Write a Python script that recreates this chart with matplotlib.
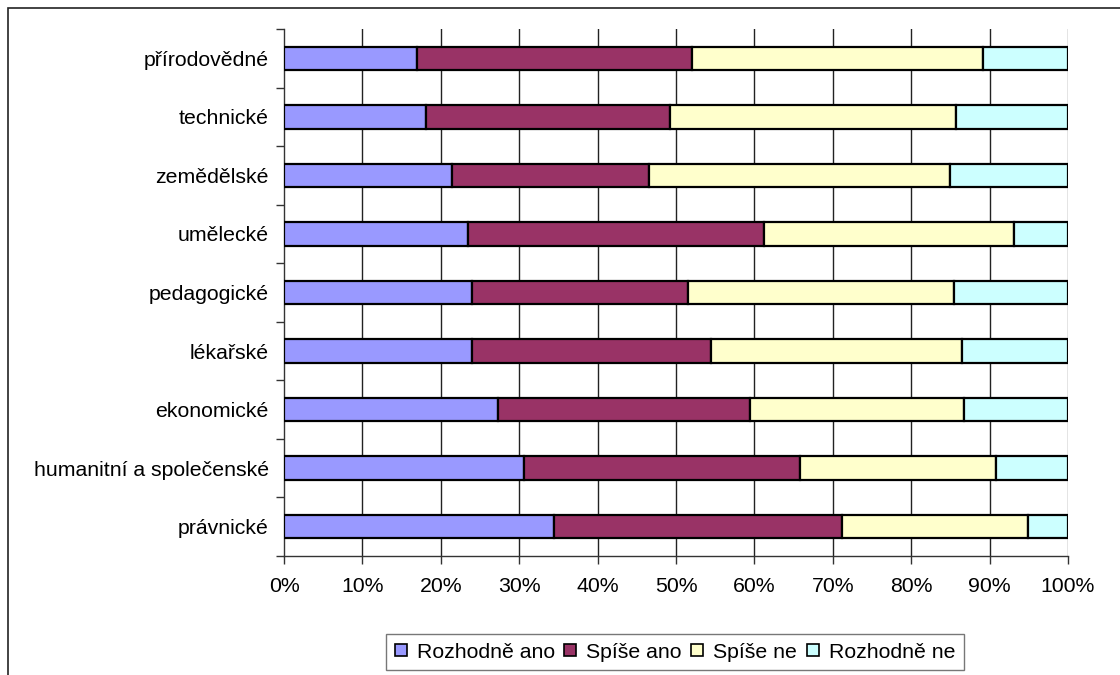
import matplotlib
matplotlib.use("Agg")
import matplotlib.pyplot as plt
from matplotlib.patches import Rectangle, Patch
from matplotlib.ticker import FuncFormatter
import numpy as np

plt.rcParams['font.family'] = ['Liberation Sans', 'DejaVu Sans']

# Study fields, listed top to bottom
categories = [
    "přírodovědné",
    "technické",
    "zemědělské",
    "umělecké",
    "pedagogické",
    "lékařské",
    "ekonomické",
    "humanitní a společenské",
    "právnické",
]

# Answer shares in percent
rozhodne_ano = [17.0, 18.1, 21.4, 23.5, 24.0, 24.0, 27.3, 30.6, 34.4]
spise_ano = [35.0, 31.1, 25.2, 37.7, 27.5, 30.5, 32.1, 35.2, 36.8]
spise_ne = [37.2, 36.5, 38.3, 31.9, 34.0, 32.0, 27.3, 25.0, 23.7]
rozhodne_ne = [10.8, 14.3, 15.1, 6.9, 14.5, 13.5, 13.3, 9.2, 5.1]

series_names = ["Rozhodně ano", "Spíše ano", "Spíše ne", "Rozhodně ne"]
series_colors = ["#9999FF", "#993366", "#FFFFCC", "#CCFFFF"]
x_ticks = list(range(0, 101, 10))

series = [rozhodne_ano, spise_ano, spise_ne, rozhodne_ne]
FS = 15.3

W, H = 1120, 675
fig = plt.figure(figsize=(W / 100, H / 100), dpi=100)
ax = fig.add_axes([284 / W, 1 - 556 / H, (1068 - 284) / W, (556 - 29) / H])

n = len(categories)
y = np.arange(n)
left = np.zeros(n)
for vals, name, col in zip(series, series_names, series_colors):
    vals = np.array(vals)
    ax.barh(y, vals, left=left, height=0.4, color=col, edgecolor="black",
            linewidth=1.6, label=name, zorder=3)
    left += vals

ax.set_xlim(0, 100)
ax.set_ylim(n - 0.5, -0.5)

ax.set_xticks(x_ticks)
ax.xaxis.set_major_formatter(FuncFormatter(lambda v, p: f"{int(v)}%"))
ax.tick_params(axis="x", direction="out", length=6, width=1, pad=9,
               labelsize=FS, colors="black", color="#333333")

ax.set_yticks(y)
ax.set_yticklabels(categories)
ax.set_yticks(np.arange(-0.5, n, 1), minor=True)
ax.tick_params(axis="y", which="major", length=0, pad=11, labelsize=FS)
ax.tick_params(axis="y", which="minor", direction="out", length=6, width=1,
               color="#333333")

for xv in x_ticks[1:]:
    ax.axvline(xv, color="#222222" if xv < 100 else "#777777",
               linewidth=1.0, zorder=1)

for side in ("top", "right"):
    ax.spines[side].set_visible(False)
for side in ("left", "bottom"):
    ax.spines[side].set_linewidth(1.0)
    ax.spines[side].set_color("#333333")

# outer chart-area border (left and top edges)
fig.patches.append(Rectangle((7.5 / W, -0.1), 1.2, 1.1 - 8.5 / H,
                             transform=fig.transFigure, fill=False,
                             edgecolor="#222222", linewidth=1.2))

handles = [Patch(facecolor=c, edgecolor="black", linewidth=1.2, label=nm)
           for c, nm in zip(series_colors, series_names)]
leg = fig.legend(handles=handles, loc="center", ncol=4,
                 bbox_to_anchor=(675 / W, 1 - 652 / H),
                 frameon=True, fancybox=False, edgecolor="#555555",
                 fontsize=FS, handlelength=0.56, handleheight=0.56,
                 handletextpad=0.47, columnspacing=0.45, borderpad=0.4,
                 borderaxespad=0)
leg.get_frame().set_linewidth(1.0)

fig.savefig("out.png", dpi=100, facecolor="white")
